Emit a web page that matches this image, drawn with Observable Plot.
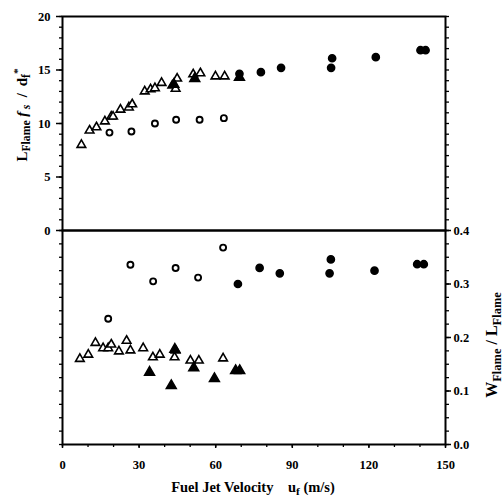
<!DOCTYPE html>
<html><head><meta charset="utf-8">
<script src="https://cdn.jsdelivr.net/npm/d3@7"></script>
<script src="https://cdn.jsdelivr.net/npm/@observablehq/plot@0.6"></script>
<style>
body{margin:0;background:#fff;}
#wrap{position:relative;width:503px;height:501px;font-family:"Liberation Serif","DejaVu Serif",serif;font-weight:bold;color:#000;}
#top,#bot{position:absolute;left:0;}
#top{top:0;} #bot{top:229px;}
svg{overflow:visible;}
svg text{font-weight:bold;font-family:"Liberation Serif",serif;font-size:12.5px;}
.lab{position:absolute;white-space:nowrap;font-weight:bold;}
sub{font-size:0.78em;vertical-align:-0.3em;}
sup{font-size:0.75em;vertical-align:0.55em;}
</style></head>
<body>
<div id="wrap">
<div id="top"></div>
<div id="bot"></div>
<div class="lab" id="ylab" style="left:22px;top:115px;font-size:15px;transform:translate(-50%,-50%) rotate(-90deg);">L<sub>Flame</sub> <i>f</i><sub>&thinsp;<i>s</i></sub>&nbsp; / &thinsp;d<sub>f</sub><sup>*</sup></div>
<div class="lab" id="y2lab" style="left:494px;top:345px;font-size:16px;transform:translate(-50%,-50%) rotate(-90deg);">W<sub>Flame</sub> / L<sub>Flame</sub></div>
<div class="lab" id="xlab" style="left:253px;top:488px;font-size:14.5px;transform:translate(-50%,-50%);">Fuel Jet Velocity&nbsp;&nbsp;&nbsp; u<sub>f</sub> (m/s)</div>
</div>
<script>
// Top panel: L_Flame f_s / d_f*
const topOpenTriX = [7.4,10.6,13.3,16.6,19.1,19.8,22.7,26.0,27.3,32.2,34.5,36.2,38.8,43.0,44.3,44.9,51.2,54.0,59.9,63.5];
const topOpenTriY = [8.0,9.35,9.65,10.2,10.65,10.65,11.3,11.5,11.8,13.0,13.2,13.3,13.8,13.55,13.25,14.2,14.6,14.7,14.4,14.4];
const topFillTriX = [43.6,51.8,69.3];
const topFillTriY = [13.65,14.2,14.3];
const topOpenCircX = [18.4,27.0,36.2,44.5,53.7,63.2];
const topOpenCircY = [9.15,9.25,10.0,10.35,10.35,10.5];
const topFillCircX = [69.3,77.7,85.6,105.2,105.6,122.7,140.2,142.2];
const topFillCircY = [14.65,14.8,15.2,15.2,16.1,16.2,16.85,16.85];
// Bottom panel: W_Flame / L_Flame
const botOpenTriX = [6.8,10.1,12.9,15.9,17.9,19.1,22.1,25.1,26.6,31.6,35.4,38.1,43.9,44.3,50.1,53.4,62.9];
const botOpenTriY = [0.160,0.168,0.190,0.180,0.180,0.187,0.174,0.194,0.176,0.180,0.163,0.168,0.163,0.176,0.157,0.157,0.161];
const botFillTriX = [34.1,42.6,44.0,51.4,59.5,67.8,69.4];
const botFillTriY = [0.135,0.110,0.178,0.143,0.123,0.138,0.138];
const botOpenCircX = [17.9,26.6,35.5,44.3,53.1,62.9];
const botOpenCircY = [0.235,0.336,0.305,0.330,0.312,0.368];
const botFillCircX = [68.7,77.2,85.1,104.6,105.1,122.2,138.9,141.5];
const botFillCircY = [0.300,0.330,0.320,0.320,0.346,0.325,0.337,0.337];
// tick labels
const xTickLabels = [0,30,60,90,120,150];
const yTopTickLabels = [0,5,10,15,20];
const yBotTickLabels = [0.0,0.1,0.2,0.3,0.4];

const pts = (xs, ys) => xs.map((x,i)=>({x, y: ys[i]}));
const font = {fontSize: 12.5, fontFamily: "Liberation Serif, serif", fontWeight: "bold"};

function markSet(ot, ft, oc, fc){
  return [
    Plot.dot(pts(...ot), {x:"x", y:"y", symbol:"triangle", r:3.2, fill:"white", stroke:"black", strokeWidth:1.6}),
    Plot.dot(pts(...oc), {x:"x", y:"y", symbol:"circle", r:3.0, fill:"white", stroke:"black", strokeWidth:1.9}),
    Plot.dot(pts(...ft), {x:"x", y:"y", symbol:"triangle", r:3.7, fill:"black", stroke:"black"}),
    Plot.dot(pts(...fc), {x:"x", y:"y", symbol:"circle", r:3.6, fill:"black", stroke:"black"})
  ];
}

const topPlot = Plot.plot({
  width: 503, height: 231, marginTop: 16, marginBottom: 1, marginLeft: 62, marginRight: 58,
  style: {...font, overflow: "visible"},
  x: {domain: [0,150], axis: null},
  y: {domain: [0,20], axis: null},
  marks: [
    Plot.axisY({anchor:"left", ticks: d3.range(0,21,1), tickSize: 3, tickFormat: () => "", label: null, strokeWidth: 1.3}),
    Plot.axisY({anchor:"left", ticks: yTopTickLabels, tickSize: 6, tickPadding: 6, label: null, strokeWidth: 1.5, ...font}),
    Plot.axisY({anchor:"right", ticks: d3.range(0,21,1), tickSize: 3, tickFormat: () => "", label: null, strokeWidth: 1.3}),
    Plot.frame({stroke:"black", strokeWidth: 2}),
    ...markSet([topOpenTriX, topOpenTriY], [topFillTriX, topFillTriY], [topOpenCircX, topOpenCircY], [topFillCircX, topFillCircY])
  ]
});
document.getElementById("top").append(topPlot);

const botPlot = Plot.plot({
  width: 503, height: 272, marginTop: 1, marginBottom: 57, marginLeft: 62, marginRight: 58,
  style: {...font, overflow: "visible"},
  x: {domain: [0,150], axis: null},
  y: {domain: [0,0.4], axis: null},
  marks: [
    Plot.axisY({anchor:"left", ticks: d3.range(0,0.4001,0.025), tickSize: 3, tickFormat: () => "", label: null, strokeWidth: 1.3}),
    Plot.axisY({anchor:"right", ticks: d3.range(0,0.4001,0.025), tickSize: 3, tickFormat: () => "", label: null, strokeWidth: 1.3}),
    Plot.axisY({anchor:"right", ticks: yBotTickLabels, tickSize: 5, tickPadding: 3, tickFormat: d3.format(".1f"), label: null, strokeWidth: 1.5, ...font}),
    Plot.axisX({anchor:"bottom", ticks: d3.range(0,151,10), tickSize: 3, tickFormat: () => "", label: null, strokeWidth: 1.3}),
    Plot.axisX({anchor:"bottom", ticks: xTickLabels, tickSize: 4, tickPadding: 12, label: null, strokeWidth: 1.5, ...font}),
    Plot.frame({stroke:"black", strokeWidth: 2}),
    ...markSet([botOpenTriX, botOpenTriY], [botFillTriX, botFillTriY], [botOpenCircX, botOpenCircY], [botFillCircX, botFillCircY])
  ]
});
document.getElementById("bot").append(botPlot);
</script>
</body></html>
